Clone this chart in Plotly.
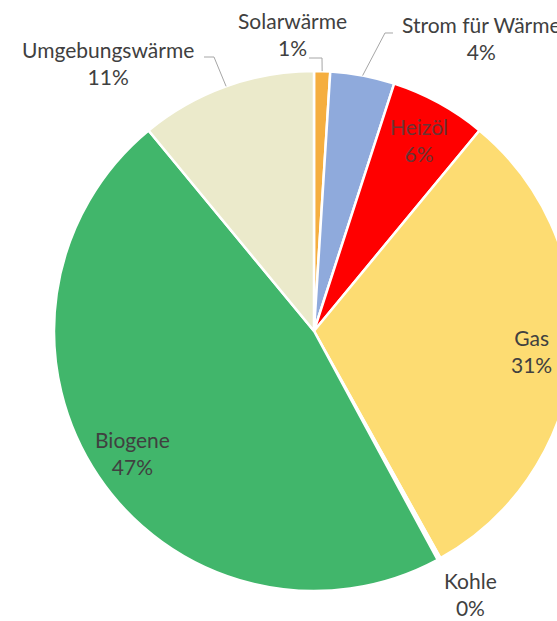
import math
import plotly.graph_objects as go

labels = ["Solarwärme", "Strom für Wärme", "Heizöl", "Gas", "Kohle", "Biogene", "Umgebungswärme"]
values = [1, 4, 6, 31, 0.2, 47, 11]
colors = ["#F5AE3F", "#8FAADC", "#FF0000", "#FDDC72", "#FFFFFF", "#41B66B", "#EBEACB"]

# label placement: inside labels sit on the slice mid-angle, the rest get fixed spots
inside = {"Heizöl": "#6b3434", "Gas": "#404040", "Biogene": "#404040"}
outside_pos = {"Solarwärme": (292, 34), "Strom für Wärme": (481, 38),
               "Umgebungswärme": (108, 63), "Kohle": (470, 594)}
# knee of the leader lines (pixels)
leader = {"Solarwärme": [(322, 58), (309, 58)],
          "Strom für Wärme": [(385, 33), (393, 33)],
          "Umgebungswärme": [(214, 57), (204, 57)]}

W, H = 600, 621
cx, cy, R = 314, 331, 260
ml, mt = cx - R, cy - R
mr, mb = W - cx - R, H - cy - R
pw, ph = 2 * R, 2 * R


def px(x):
    return (x - ml) / pw


def py(y):
    return (mt + ph - y) / ph


fig = go.Figure(go.Pie(
    labels=labels, values=values, sort=False, direction="clockwise", rotation=0,
    marker=dict(colors=colors, line=dict(color="white", width=2.5)),
    textinfo="none", hoverinfo="label+percent", showlegend=False,
))

total = sum(values)
annotations = []
shapes = []
cum = 0
for lab, v in zip(labels, values):
    mid = (cum + v / 2) / total * 2 * math.pi
    cum += v
    pct = "%d%%" % round(v / total * 100)
    txt = lab + "<br>" + pct
    if lab in inside:
        x = cx + 0.84 * R * math.sin(mid)
        y = cy - 0.84 * R * math.cos(mid)
        col = inside[lab]
    else:
        x, y = outside_pos[lab]
        col = "#404040"
    annotations.append(dict(x=px(x), y=py(y), xref="paper", yref="paper", text=txt,
                            showarrow=False, xanchor="center", yanchor="middle",
                            font=dict(color=col)))
    if lab in leader:
        ex = cx + R * math.sin(mid)
        ey = cy - R * math.cos(mid)
        pts = [(ex, ey)] + leader[lab]
        path = "M " + " L ".join("%f,%f" % (px(a), py(b)) for a, b in pts)
        shapes.append(dict(type="path", xref="paper", yref="paper", path=path,
                           line=dict(color="#A6A6A6", width=1)))

fig.update_layout(
    width=W, height=H,
    margin=dict(l=ml, r=mr, t=mt, b=mb, pad=0),
    paper_bgcolor="white", plot_bgcolor="white",
    font=dict(family="Lato, Carlito, sans-serif", size=21, color="#404040"),
    annotations=annotations, shapes=shapes,
)

fig.write_html("out.html", config={"displayModeBar": False}, post_script=(
    "document.body.style.margin='0';"
    "document.body.style.overflow='hidden';"
    "document.documentElement.style.overflow='hidden';"
))
